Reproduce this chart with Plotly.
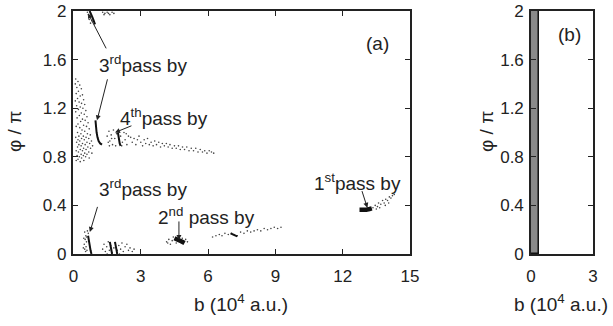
import plotly.graph_objects as go

# ---------------- data ----------------
# Panel (a): scattered final (b, phi/pi) points
left_b = [0.10,0.20,0.08,0.28,0.15,0.35,0.22,0.12,0.40,0.30,0.18,0.45,0.08,0.25,0.36,0.50,
          0.14,0.30,0.42,0.22,0.55,0.10,0.35,0.48,0.26,0.60,0.16,0.40,0.52,0.32,0.65,0.20,0.45,0.12,0.58,0.28,0.70,0.38,0.50,0.18,0.62,0.33,0.75,0.24,0.44,0.56,0.10,0.68,0.36,
          0.20,0.48,0.80,0.28,0.60,0.14,0.40,0.72,0.52,0.24,0.85,0.34,0.64,0.18,0.45,0.76,0.30,0.56,0.12,0.40,0.68,0.22,0.50,0.82,0.34,0.60,0.16,0.44,0.26,0.54,0.70,0.36,0.20,0.46,0.30,0.12]
left_phi = [1.44,1.42,1.40,1.39,1.37,1.36,1.34,1.32,1.31,1.30,1.28,1.27,1.26,1.25,1.24,1.23,
            1.22,1.21,1.20,1.19,1.18,1.17,1.16,1.15,1.14,1.13,1.12,1.11,1.10,1.09,1.08,1.07,1.06,1.05,1.05,1.04,1.03,1.02,1.01,1.00,0.99,0.99,0.98,0.97,0.97,0.96,0.96,0.95,0.95,
            0.94,0.94,0.93,0.93,0.92,0.92,0.91,0.91,0.90,0.90,0.89,0.89,0.88,0.88,0.87,0.87,0.86,0.86,0.85,0.85,0.84,0.84,0.83,0.83,0.82,0.82,0.81,0.81,0.80,0.80,0.79,0.79,0.78,0.77,0.76,0.77]

top_b = [0.66,0.70,0.76,0.62,0.82,0.68,1.30,1.40,1.50,1.62,1.72,1.80,1.36,1.56]
top_phi = [1.97,1.93,1.90,1.99,1.92,1.95,1.99,1.98,1.99,1.97,1.99,1.98,1.97,1.98]

fourth_b = [1.50,1.58,1.62,1.68,1.74,1.78,1.84,1.88,1.92,1.70,1.60,1.55,2.10,2.18,2.25,2.30,2.38,2.45,2.15,2.35,
            2.55,2.62,2.70,2.78,2.85,2.92,3.00,3.08,3.15,3.22,3.30,3.38,3.46,3.55,3.62,3.70,3.80,3.88,3.96,4.05,4.14,
            4.22,4.30,4.40,4.50,4.58,4.68,4.76,4.86,4.95,5.05,5.15,5.25,5.35,5.45,5.55,5.65,5.75,5.85,5.95,6.05,6.15,6.25]
fourth_phi = [0.97,1.01,0.93,0.98,0.90,1.02,0.95,0.89,0.99,0.95,0.89,0.92,0.97,0.92,1.00,0.94,0.90,0.97,0.89,0.99,
              0.96,0.92,0.95,0.90,0.94,0.97,0.92,0.89,0.94,0.91,0.95,0.90,0.92,0.89,0.93,0.90,0.92,0.88,0.91,0.89,0.91,
              0.88,0.90,0.87,0.89,0.87,0.89,0.86,0.88,0.86,0.88,0.85,0.87,0.85,0.87,0.84,0.86,0.84,0.85,0.83,0.85,0.84,0.83]

low3_b = [0.50,0.55,0.52,0.58,0.48,0.56,0.50,0.60,0.46,0.62,0.54,0.66,0.58,0.44]
low3_phi = [0.18,0.15,0.12,0.10,0.08,0.06,0.04,0.03,0.13,0.19,0.02,0.17,0.14,0.05]

low_b = [1.30,1.36,1.42,1.48,1.55,1.60,1.66,1.72,1.80,1.86,1.95,2.02,2.10,2.16,2.22,2.30,2.38,2.45,2.52,2.62,2.70,1.50,2.05]
low_phi = [0.04,0.08,0.02,0.06,0.10,0.03,0.07,0.01,0.05,0.09,0.03,0.07,0.04,0.09,0.02,0.06,0.08,0.03,0.05,0.02,0.04,0.00,0.00]

second_b = [4.15,4.25,4.32,4.40,4.45,4.58,4.70,4.85,5.00,5.08,4.20,
            6.20,6.35,6.50,6.62,6.75,6.90,7.05,7.15,7.30,7.45,7.60,7.75,7.90,8.05,8.20,8.35,8.50,8.65,8.80,8.95,9.10,9.25]
second_phi = [0.10,0.12,0.08,0.11,0.14,0.09,0.14,0.13,0.12,0.10,0.09,
              0.14,0.15,0.16,0.15,0.17,0.16,0.17,0.16,0.15,0.18,0.17,0.19,0.18,0.19,0.20,0.19,0.21,0.20,0.21,0.22,0.21,0.22]

first_b = [13.35,13.45,13.55,13.60,13.70,13.78,13.85,13.92,14.00,14.08,14.15,14.22,14.30,13.50,13.65,13.90,14.05]
first_phi = [0.38,0.40,0.39,0.42,0.41,0.44,0.42,0.45,0.44,0.47,0.46,0.48,0.49,0.37,0.38,0.40,0.42]

# dense strokes (curves made of many overlapping points)
curve_b = [0.72,0.78,0.84,0.90,0.96,None,
           0.98,1.00,1.03,1.07,1.12,1.19,1.27,None,
           1.98,2.00,2.03,2.06,2.10,None,
           0.65,0.68,0.72,0.76,0.80,None,
           1.62,1.72,None,1.85,1.95,None,
           7.00,7.30]
curve_phi = [2.00,1.98,1.95,1.92,1.89,None,
             1.10,1.05,1.00,0.96,0.93,0.91,0.90,None,
             1.00,0.97,0.94,0.91,0.89,None,
             0.15,0.11,0.07,0.03,0.00,None,
             0.10,0.00,None,0.10,0.00,None,
             0.17,0.145]
blob_b = [4.50,4.65,4.80,4.95,None,12.75,12.90,13.05,13.20,13.30]
blob_phi = [0.13,0.12,0.105,0.09,None,0.365,0.362,0.365,0.370,0.375]

# Panel (b): band of final points
band_center = [0.19]
band_width = [0.38]
band_top = [2.0]

x_ticks_a = [0, 3, 6, 9, 12, 15]
x_ticks_b = [0, 3]
y_ticks = [0, 0.4, 0.8, 1.2, 1.6, 2]
y_labels = ["0", "0.4", "0.8", "1.2", "1.6", "2"]

# ---------------- figure ----------------
INK = "#222222"
FONT = "Liberation Sans"

fig = go.Figure()
dot = dict(size=1.6, color="#444444")
for bx, py in [(left_b, left_phi), (top_b, top_phi), (fourth_b, fourth_phi), (low3_b, low3_phi),
               (low_b, low_phi), (second_b, second_phi), (first_b, first_phi)]:
    fig.add_trace(go.Scatter(x=bx, y=py, mode="markers", marker=dot, showlegend=False,
                             xaxis="x", yaxis="y", hoverinfo="skip"))
fig.add_trace(go.Scatter(x=curve_b, y=curve_phi, mode="lines", line=dict(color="#111111", width=2),
                         showlegend=False, xaxis="x", yaxis="y", connectgaps=False))
fig.add_trace(go.Scatter(x=blob_b, y=blob_phi, mode="lines", line=dict(color="#111111", width=4.5),
                         showlegend=False, xaxis="x", yaxis="y", connectgaps=False))

fig.add_trace(go.Bar(x=band_center, y=band_top, width=band_width, base=0,
                     marker=dict(color="#8a8a8a", line=dict(color="#111111", width=1.5)),
                     showlegend=False, xaxis="x2", yaxis="y2"))

axis_common = dict(showline=True, mirror="ticks", ticks="inside", ticklen=5, tickwidth=1,
                   linecolor=INK, linewidth=1.5, tickcolor=INK, showgrid=False, zeroline=False,
                   automargin=False, tickfont=dict(family=FONT, size=17, color=INK))

fig.update_layout(
    width=613, height=326, autosize=False,
    margin=dict(l=0, r=0, t=0, b=0, pad=0),
    paper_bgcolor="white", plot_bgcolor="white",
    xaxis=dict(domain=[0.1199, 0.6688], range=[0, 15], tickvals=x_ticks_a, anchor="y",
               ticklabelstandoff=6, **axis_common),
    yaxis=dict(domain=[0.2209, 0.9663], range=[0, 2], tickvals=y_ticks, ticktext=y_labels, anchor="x",
               ticklabelstandoff=2, **axis_common),
    xaxis2=dict(domain=[0.8662, 0.9674], range=[0, 3], tickvals=x_ticks_b, anchor="y2",
                ticklabelstandoff=6, **axis_common),
    yaxis2=dict(domain=[0.2209, 0.9663], range=[0, 2], tickvals=y_ticks, ticktext=y_labels, anchor="x2",
                ticklabelstandoff=2, **axis_common),
    bargap=0,
)

tf = dict(family=FONT, size=19, color=INK)
ann = []
# text labels
ann += [
    dict(x=1.05, y=1.56, xref="x", yref="y", text="3<sup>rd</sup>pass by", showarrow=False, xanchor="left", yanchor="middle", font=tf),
    dict(x=1.98, y=1.13, xref="x", yref="y", text="4<sup>th</sup>pass by", showarrow=False, xanchor="left", yanchor="middle", font=tf),
    dict(x=1.05, y=0.54, xref="x", yref="y", text="3<sup>rd</sup>pass by", showarrow=False, xanchor="left", yanchor="middle", font=tf),
    dict(x=3.70, y=0.31, xref="x", yref="y", text="2<sup>nd</sup> pass by", showarrow=False, xanchor="left", yanchor="middle", font=tf),
    dict(x=10.65, y=0.59, xref="x", yref="y", text="1<sup>st</sup>pass by", showarrow=False, xanchor="left", yanchor="middle", font=tf),
    dict(x=13.55, y=1.73, xref="x", yref="y", text="(a)", showarrow=False, xanchor="center", yanchor="middle", font=tf),
    dict(x=1.84, y=1.81, xref="x2", yref="y2", text="(b)", showarrow=False, xanchor="center", yanchor="middle", font=tf),
]
# arrows
arrow = dict(text="", showarrow=True, arrowhead=2, arrowsize=1, arrowwidth=1, arrowcolor=INK,
             xref="x", yref="y", axref="x", ayref="y")
for (tx, ty, hx, hy) in [(1.49, 1.68, 0.65, 1.98), (1.53, 1.45, 1.05, 1.10), (2.65, 1.06, 1.85, 1.00),
                         (1.09, 0.40, 0.73, 0.18), (4.70, 0.28, 4.70, 0.115), (12.84, 0.53, 13.1, 0.38)]:
    ann.append(dict(x=hx, y=hy, ax=tx, ay=ty, **arrow))
# axis titles
ann += [
    dict(x=241/613, y=1-303/326, xref="paper", yref="paper", text="b (10<sup>4</sup> a.u.)", showarrow=False,
         xanchor="center", yanchor="middle", font=tf),
    dict(x=561/613, y=1-303/326, xref="paper", yref="paper", text="b (10<sup>4</sup> a.u.)", showarrow=False,
         xanchor="center", yanchor="middle", font=tf),
    dict(x=14/613, y=1-132/326, xref="paper", yref="paper", text="φ / π", textangle=-90, showarrow=False,
         xanchor="center", yanchor="middle", font=tf),
    dict(x=486/613, y=1-132/326, xref="paper", yref="paper", text="φ / π", textangle=-90, showarrow=False,
         xanchor="center", yanchor="middle", font=tf),
]
fig.update_layout(annotations=ann)

fig.write_html("out.html")
